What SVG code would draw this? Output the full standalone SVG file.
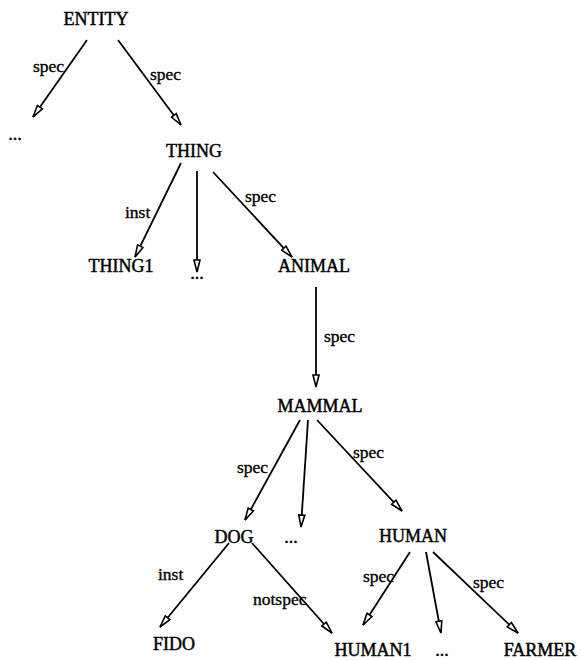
<svg xmlns="http://www.w3.org/2000/svg" width="581" height="660" viewBox="0 0 581 660">
  <defs>
    <!-- hollow arrowhead, tip sits on the end of each connector -->
    <marker id="arrow" viewBox="0 0 14 8" refX="13" refY="4" markerWidth="14" markerHeight="8" markerUnits="userSpaceOnUse" orient="auto">
      <path d="M1,1 L13,4 L1,7 Z" fill="#fff" stroke="#000" stroke-width="1.6" stroke-linejoin="miter"/>
    </marker>
  </defs>
  <style>
    .node { font-family: "Liberation Serif", "Times New Roman", serif; font-size: 18px; fill: #000; stroke: #000; stroke-width: 0.45; text-anchor: middle; }
    .lbl { font-family: "Liberation Serif", "Times New Roman", serif; font-size: 17.5px; fill: #000; stroke: #000; stroke-width: 0.35; }
    .edge { stroke: #000; stroke-width: 1.8; fill: none; marker-end: url(#arrow); }
  </style>
  <rect width="581" height="660" fill="#fff"/>

  <!-- connectors -->
  <g id="connectors">
    <line class="edge" x1="87" y1="40" x2="33" y2="117"/>
    <line class="edge" x1="118" y1="40" x2="181" y2="125"/>
    <line class="edge" x1="181" y1="163" x2="135" y2="257"/>
    <line class="edge" x1="197" y1="171" x2="197" y2="272"/>
    <line class="edge" x1="213" y1="172" x2="292" y2="257"/>
    <line class="edge" x1="316" y1="287" x2="316" y2="387"/>
    <line class="edge" x1="300" y1="420" x2="245" y2="520"/>
    <line class="edge" x1="308" y1="420" x2="301" y2="527"/>
    <line class="edge" x1="317" y1="420" x2="402" y2="511"/>
    <line class="edge" x1="229" y1="543" x2="160" y2="627"/>
    <line class="edge" x1="252" y1="543" x2="332" y2="633"/>
    <line class="edge" x1="410" y1="552" x2="363" y2="625"/>
    <line class="edge" x1="426" y1="552" x2="441" y2="633"/>
    <line class="edge" x1="433" y1="552" x2="518" y2="633"/>
  </g>

  <!-- edge labels -->
  <g id="edge-labels">
    <text class="lbl" x="33" y="72">spec</text>
    <text class="lbl" x="150" y="80">spec</text>
    <text class="lbl" x="125" y="218">inst</text>
    <text class="lbl" x="245" y="202">spec</text>
    <text class="lbl" x="324" y="342">spec</text>
    <text class="lbl" x="237" y="473">spec</text>
    <text class="lbl" x="353" y="458">spec</text>
    <text class="lbl" x="158" y="580">inst</text>
    <text class="lbl" x="253" y="605">notspec</text>
    <text class="lbl" x="363" y="582">spec</text>
    <text class="lbl" x="473" y="588">spec</text>
  </g>

  <!-- nodes -->
  <g id="entity"><text class="node" x="96" y="25">ENTITY</text></g>
  <g id="more-entity"><text class="node" x="15" y="140">...</text></g>
  <g id="thing"><text class="node" x="194" y="157">THING</text></g>
  <g id="thing1"><text class="node" x="121" y="272">THING1</text></g>
  <g id="more-thing"><text class="node" x="197" y="279">...</text></g>
  <g id="animal"><text class="node" x="314" y="272">ANIMAL</text></g>
  <g id="mammal"><text class="node" x="320" y="412">MAMMAL</text></g>
  <g id="dog"><text class="node" x="234" y="543">DOG</text></g>
  <g id="more-mammal"><text class="node" x="291" y="543">...</text></g>
  <g id="human"><text class="node" x="413" y="542">HUMAN</text></g>
  <g id="fido"><text class="node" x="174" y="650">FIDO</text></g>
  <g id="human1"><text class="node" x="373" y="656">HUMAN1</text></g>
  <g id="more-human"><text class="node" x="442" y="656">...</text></g>
  <g id="farmer"><text class="node" x="540" y="656">FARMER</text></g>
</svg>
